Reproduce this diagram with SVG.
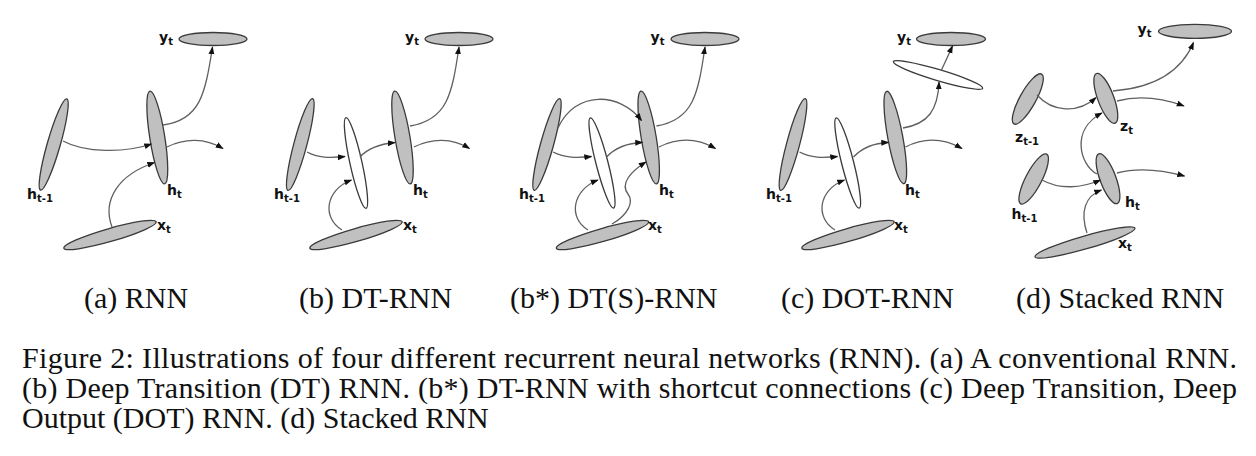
<svg xmlns="http://www.w3.org/2000/svg" width="1256" height="456" viewBox="0 0 1256 456">
<style>
.g{fill:#c0c0c0;stroke:#3a3a3a;stroke-width:1.3}
.w{fill:#fff;stroke:#3a3a3a;stroke-width:1.3}
.c{fill:none;stroke:#606060;stroke-width:1.3;marker-end:url(#ah)}
.lb{font-family:"DejaVu Sans",Verdana,sans-serif;font-weight:bold;font-size:14px;fill:#111}
.sb{font-size:10px}
.cap{font-family:"Liberation Serif","Times New Roman",serif;font-size:30px;fill:#111}
</style>
<defs>
<marker id="ah" viewBox="0 0 10 10" refX="9" refY="5" markerWidth="8" markerHeight="8" orient="auto" markerUnits="userSpaceOnUse">
<path d="M0,1.3 L10,5 L0,8.7 z" fill="#111"/>
</marker>
</defs>
<rect width="1256" height="456" fill="#fff"/>

<!-- (a) RNN -->
<g id="a_hprev"><ellipse class="g" cx="53.7" cy="144.5" rx="6.5" ry="47.5" transform="rotate(16 53.7 144.5)"/><text class="lb" x="27" y="199">h<tspan class="sb" dy="3">t-1</tspan></text></g>
<g id="a_h"><ellipse class="g" cx="157.3" cy="137.5" rx="7.5" ry="47" transform="rotate(-9 157.3 137.5)"/><text class="lb" x="167" y="195">h<tspan class="sb" dy="3">t</tspan></text></g>
<g id="a_x"><ellipse class="g" cx="110" cy="235" rx="48" ry="6.5" transform="rotate(-16 110 235)"/><text class="lb" x="157" y="230">x<tspan class="sb" dy="3">t</tspan></text></g>
<g id="a_y"><ellipse class="g" cx="213" cy="39" rx="34" ry="6.5"/><text class="lb" x="159" y="42">y<tspan class="sb" dy="3">t</tspan></text></g>

<!-- (b) DT-RNN -->
<g id="b_hprev"><ellipse class="g" cx="300.3" cy="144.5" rx="6.5" ry="47.5" transform="rotate(15 300.3 144.5)"/><text class="lb" x="274" y="199">h<tspan class="sb" dy="3">t-1</tspan></text></g>
<g id="b_mid"><ellipse class="w" cx="356" cy="163" rx="6" ry="46.5" transform="rotate(-12.5 356 163)"/></g>
<g id="b_h"><ellipse class="g" cx="402.5" cy="137.5" rx="7.5" ry="47" transform="rotate(-9.5 402.5 137.5)"/><text class="lb" x="413" y="195">h<tspan class="sb" dy="3">t</tspan></text></g>
<g id="b_x"><ellipse class="g" cx="356" cy="235" rx="48" ry="6.5" transform="rotate(-16 356 235)"/><text class="lb" x="403" y="230">x<tspan class="sb" dy="3">t</tspan></text></g>
<g id="b_y"><ellipse class="g" cx="459" cy="39" rx="34" ry="6.5"/><text class="lb" x="405" y="42">y<tspan class="sb" dy="3">t</tspan></text></g>

<!-- (b*) DT(S)-RNN -->
<g id="s_hprev"><ellipse class="g" cx="547" cy="144.5" rx="6.5" ry="47.5" transform="rotate(15.5 547 144.5)"/><text class="lb" x="519" y="199">h<tspan class="sb" dy="3">t-1</tspan></text></g>
<g id="s_mid"><ellipse class="w" cx="602" cy="163" rx="6" ry="46.5" transform="rotate(-14.5 602 163)"/></g>
<g id="s_h"><ellipse class="g" cx="648.7" cy="137.5" rx="7.5" ry="47" transform="rotate(-9.5 648.7 137.5)"/><text class="lb" x="659" y="195">h<tspan class="sb" dy="3">t</tspan></text></g>
<g id="s_x"><ellipse class="g" cx="602.5" cy="235" rx="48" ry="6.5" transform="rotate(-16 602.5 235)"/><text class="lb" x="648" y="230">x<tspan class="sb" dy="3">t</tspan></text></g>
<g id="s_y"><ellipse class="g" cx="705" cy="39" rx="34" ry="6.5"/><text class="lb" x="650.5" y="42">y<tspan class="sb" dy="3">t</tspan></text></g>

<!-- (c) DOT-RNN -->
<g id="c_hprev"><ellipse class="g" cx="793" cy="144.5" rx="6.5" ry="47.5" transform="rotate(15 793 144.5)"/><text class="lb" x="766" y="199">h<tspan class="sb" dy="3">t-1</tspan></text></g>
<g id="c_mid"><ellipse class="w" cx="847.7" cy="163" rx="6" ry="46.5" transform="rotate(-14.3 847.7 163)"/></g>
<g id="c_h"><ellipse class="g" cx="895.3" cy="137.5" rx="7.5" ry="47" transform="rotate(-10.5 895.3 137.5)"/><text class="lb" x="905" y="195">h<tspan class="sb" dy="3">t</tspan></text></g>
<g id="c_out"><ellipse class="w" cx="938" cy="75" rx="46.6" ry="5.5" transform="rotate(16.6 938 75)"/></g>
<g id="c_x"><ellipse class="g" cx="848" cy="235" rx="48" ry="6.5" transform="rotate(-16 848 235)"/><text class="lb" x="894" y="230">x<tspan class="sb" dy="3">t</tspan></text></g>
<g id="c_y"><ellipse class="g" cx="951" cy="39" rx="34.5" ry="6.5"/><text class="lb" x="897" y="42">y<tspan class="sb" dy="3">t</tspan></text></g>

<!-- (d) Stacked RNN -->
<g id="d_zprev"><ellipse class="g" cx="1027.8" cy="99" rx="8" ry="28.5" transform="rotate(29 1027.8 99)"/><text class="lb" x="1015" y="141.5">z<tspan class="sb" dy="3">t-1</tspan></text></g>
<g id="d_z"><ellipse class="g" cx="1105.8" cy="98.3" rx="8" ry="26.5" transform="rotate(-20.6 1105.8 98.3)"/><text class="lb" x="1120" y="131">z<tspan class="sb" dy="3">t</tspan></text></g>
<g id="d_hprev"><ellipse class="g" cx="1033.7" cy="179" rx="8" ry="28" transform="rotate(27.5 1033.7 179)"/><text class="lb" x="1011.5" y="219">h<tspan class="sb" dy="3">t-1</tspan></text></g>
<g id="d_h"><ellipse class="g" cx="1108" cy="178.7" rx="8" ry="26.5" transform="rotate(-20.4 1108 178.7)"/><text class="lb" x="1125" y="207">h<tspan class="sb" dy="3">t</tspan></text></g>
<g id="d_x"><ellipse class="g" cx="1085" cy="242.5" rx="52" ry="6.5" transform="rotate(-16 1085 242.5)"/><text class="lb" x="1118" y="248">x<tspan class="sb" dy="3">t</tspan></text></g>
<g id="d_y"><ellipse class="g" cx="1195" cy="31.3" rx="36.5" ry="7"/><text class="lb" x="1137.5" y="34">y<tspan class="sb" dy="3">t</tspan></text></g>

<g id="connectors">
<!-- a -->
<path class="c" d="M63,141 C85,153 125,153 151.5,144"/>
<path class="c" d="M112,227 C102,200 118,175 154.5,162.5"/>
<path class="c" d="M163,125 C200,120 205,95 212.5,47"/>
<path class="c" d="M167,147 C185,138 205,138 223,148.5"/>
<!-- b -->
<path class="c" d="M307,152 C318,158 330,158 345,156.5"/>
<path class="c" d="M360,157 C368,148 380,144 395,142.5"/>
<path class="c" d="M342,230 C322,218 325,190 351.5,180"/>
<path class="c" d="M410,126 C447,120 452,95 459,47"/>
<path class="c" d="M414,147 C432,138 452,138 469.5,148.5"/>
<!-- b* -->
<path class="c" d="M558,128 C575,90 620,92 641.5,120.5"/>
<path class="c" d="M553,152 C565,158 577,158 591.5,156.5"/>
<path class="c" d="M606.5,157 C615,148 627,143 642.5,142.5"/>
<path class="c" d="M588,230 C568,218 572,190 598,180"/>
<path class="c" d="M612,224 C628,215 634,202 628,194 C620,184 630,172 646,162"/>
<path class="c" d="M656.5,126 C693,120 698,95 705,47"/>
<path class="c" d="M659,147 C677,138 697,138 715.5,148.5"/>
<!-- c -->
<path class="c" d="M799.5,152 C811,158 823,158 837.5,156.5"/>
<path class="c" d="M853.5,157 C862,148 874,143 888.5,142.5"/>
<path class="c" d="M835,230 C815,218 818,190 844.5,180"/>
<path class="c" d="M903,128 C928,124 938,110 939,82"/>
<path class="c" d="M941.5,70 L952.5,46"/>
<path class="c" d="M905.5,147 C923,138 943,138 962,148.5"/>
<!-- d -->
<path class="c" d="M1037,95 C1052,112 1078,114 1096,97.5"/>
<path class="c" d="M1113,91 C1150,88 1180,75 1193.5,42.5"/>
<path class="c" d="M1117,101 C1140,95 1162,98 1184,106"/>
<path class="c" d="M1042,180 C1060,190 1082,188 1100.5,180"/>
<path class="c" d="M1097,174 C1080,165 1070,130 1102,113"/>
<path class="c" d="M1117,173 C1140,167 1162,170 1184.5,176"/>
<path class="c" d="M1087,233 C1080,212 1085,196 1101.5,190"/>
</g>

<g id="captions">
<text class="cap" x="84" y="308">(a) RNN</text>
<text class="cap" x="299" y="308">(b) DT-RNN</text>
<text class="cap" x="510" y="308">(b*) DT(S)-RNN</text>
<text class="cap" x="781" y="308">(c) DOT-RNN</text>
<text class="cap" x="1016" y="308">(d) Stacked RNN</text>
<text class="cap" x="22" y="368" textLength="1215" lengthAdjust="spacing">Figure 2: Illustrations of four different recurrent neural networks (RNN). (a) A conventional RNN.</text>
<text class="cap" x="22" y="398" textLength="1215" lengthAdjust="spacing">(b) Deep Transition (DT) RNN. (b*) DT-RNN with shortcut connections (c) Deep Transition, Deep</text>
<text class="cap" x="22" y="428">Output (DOT) RNN. (d) Stacked RNN</text>
</g>
</svg>
